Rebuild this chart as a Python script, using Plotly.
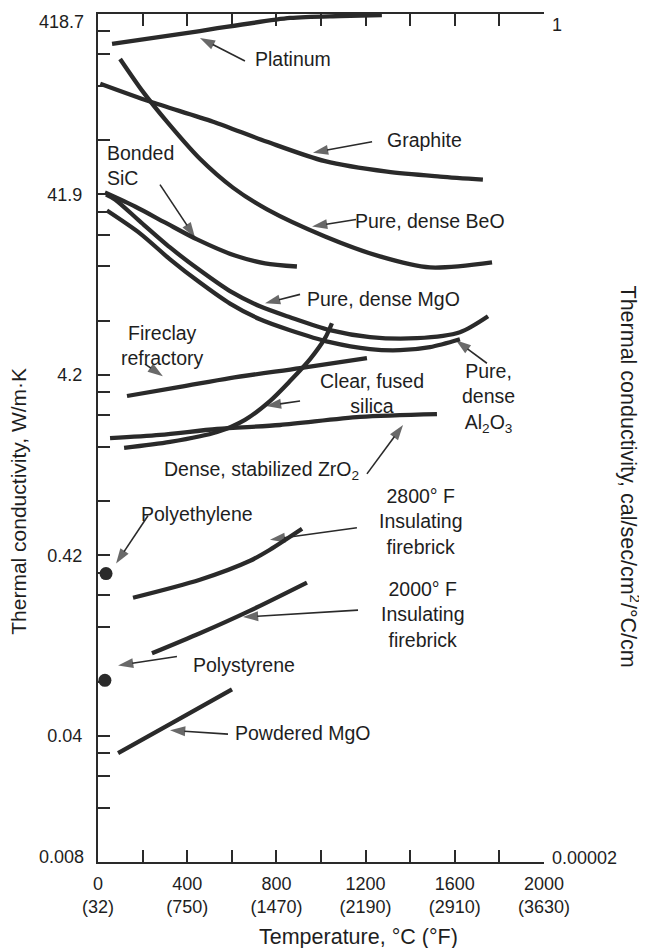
import math
import plotly.graph_objects as go

# ---------------- data: temperature (°C) vs thermal conductivity (W/m·K) ----------------
platinum_T = [63, 457, 861, 1085, 1273]
platinum_k = [286, 337, 398, 408, 413]

graphite_T = [10, 233, 516, 758, 1018, 1296, 1534, 1726]
graphite_k = [172, 137, 106, 82, 64, 56, 52.6, 50.6]

beo_T = [99, 202, 309, 457, 605, 758, 1018, 1264, 1489, 1767]
beo_k = [236, 155, 106, 66, 45.7, 34.6, 24.5, 19.0, 16.5, 17.6]

sic_T = [31, 166, 300, 444, 614, 749, 892]
sic_k = [42.9, 35.9, 29.3, 23.6, 19.2, 17.4, 16.7]

mgo_T = [36, 76, 188, 323, 457, 592, 726, 861, 1040, 1220, 1430, 1623, 1749]
mgo_k = [41.8, 39.3, 29.7, 21.3, 15.9, 12.2, 10.05, 8.74, 7.41, 6.78, 6.69, 7.22, 8.85]

al2o3_T = [40, 188, 323, 457, 592, 726, 861, 1040, 1220, 1354, 1489, 1623]
al2o3_k = [34.1, 25.5, 18.3, 13.6, 10.4, 8.52, 7.41, 6.36, 5.82, 5.74, 5.97, 6.60]

fireclay_T = [130, 368, 592, 906, 1206]
fireclay_k = [3.20, 3.59, 4.02, 4.57, 5.19]

silica_T = [117, 323, 534, 659, 771, 861, 951, 1018, 1049]
silica_k = [1.65, 1.78, 2.02, 2.36, 3.00, 3.87, 5.12, 6.69, 8.10]

zro2_T = [54, 278, 534, 816, 1175, 1520]
zro2_k = [1.87, 1.95, 2.10, 2.21, 2.45, 2.54]

ifb2800_T = [157, 457, 682, 771, 915]
ifb2800_k = [0.244, 0.307, 0.391, 0.450, 0.588]

ifb2000_T = [242, 457, 682, 937]
ifb2000_k = [0.120, 0.155, 0.207, 0.296]

powdered_mgo_T = [90, 345, 601]
powdered_mgo_k = [0.0336, 0.0504, 0.0758]

polyethylene_T = [36]
polyethylene_k = [0.332]

polystyrene_T = [31]
polystyrene_k = [0.085]

# ---------------- axes ----------------
W_PER_CAL = 418.7
cal_major = [0.1, 0.01, 0.001, 0.0001]
cal_major_labels = ["0.1", "0.01", "0.001", "0.0001"]
w_major_labels = ["41.9", "4.2", "0.42", "0.04"]
cal_minor = [0.8, 0.6, 0.4, 0.2, 0.08, 0.06, 0.04, 0.02, 0.008, 0.006, 0.004, 0.002,
             0.0008, 0.0006, 0.0004, 0.0002, 0.00008, 0.00006, 0.00004]

x_major = [0, 400, 800, 1200, 1600, 2000]
x_major_labels = ["0<br>(32)", "400<br>(750)", "800<br>(1470)", "1200<br>(2190)",
                  "1600<br>(2910)", "2000<br>(3630)"]
x_minor = [200, 600, 1000, 1400, 1800]

# ---------------- labels and arrows (temperature, conductivity) ----------------
labels = [
    ("Platinum", 874, 236, "center"),
    ("Graphite", 1466, 84.3, "center"),
    ("Pure, dense BeO", 1489, 29.7, "center"),
    ("Bonded<br>SiC", 31, 60.5, "left"),
    ("Pure, dense MgO", 1282, 11.1, "center"),
    ("Fireclay<br>refractory", 287, 6.12, "center"),
    ("Clear, fused<br>silica", 1229, 3.32, "center"),
    ("Pure,<br>dense<br>Al<sub>2</sub>O<sub>3</sub>", 1749, 3.12, "center"),
    ("Dense, stabilized ZrO<sub>2</sub>", 735, 1.23, "center"),
    ("Polyethylene", 444, 0.712, "center"),
    ("2800° F<br>Insulating<br>firebrick", 1444, 0.643, "center"),
    ("2000° F<br>Insulating<br>firebrick", 1453, 0.197, "center"),
    ("Polystyrene", 655, 0.1029, "center"),
    ("Powdered MgO", 919, 0.0433, "center"),
]

# (tail T, tail k, tip T, tip k)
arrows = [
    (659, 230, 457, 308.6),
    (1229, 82.1, 964, 71.4),
    (1157, 30.4, 960, 27.8),
    (278, 47.5, 435, 24.2),
    (906, 11.7, 749, 10.45),
    (211, 4.81, 291, 4.12),
    (906, 3.00, 753, 2.82),
    (1744, 4.86, 1605, 6.52),
    (1206, 1.185, 1368, 2.21),
    (224, 0.694, 81, 0.377),
    (1161, 0.596, 771, 0.511),
    (1166, 0.2083, 650, 0.1905),
    (354, 0.1153, 90, 0.1029),
    (583, 0.0428, 323, 0.045),
]

INK = "#2a2a2a"
TXT = "#1e1e1e"
FONT = "Liberation Sans, Arial, Helvetica, sans-serif"

fig = go.Figure()

curves = [
    (platinum_T, platinum_k), (graphite_T, graphite_k), (beo_T, beo_k), (sic_T, sic_k),
    (mgo_T, mgo_k), (al2o3_T, al2o3_k), (fireclay_T, fireclay_k), (silica_T, silica_k),
    (zro2_T, zro2_k), (ifb2800_T, ifb2800_k), (ifb2000_T, ifb2000_k),
    (powdered_mgo_T, powdered_mgo_k),
]
for T, k in curves:
    fig.add_trace(go.Scatter(x=T, y=k, mode="lines",
                             line=dict(color=INK, width=4.3, shape="spline", smoothing=0.8),
                             showlegend=False, hoverinfo="skip"))

for T, k in [(polyethylene_T, polyethylene_k), (polystyrene_T, polystyrene_k)]:
    fig.add_trace(go.Scatter(x=T, y=k, mode="markers",
                             marker=dict(color=INK, size=13, line=dict(width=0)),
                             showlegend=False, hoverinfo="skip", cliponaxis=False))

# pointer arrows: thin shaft with a filled head at the tip
for tT, tk, hT, hk in arrows:
    fig.add_trace(go.Scatter(x=[tT, hT], y=[tk, hk], mode="lines+markers",
                             line=dict(color=INK, width=1.6),
                             marker=dict(symbol="arrow", size=[0, 16], angleref="previous",
                                         color=INK, line=dict(width=0)),
                             showlegend=False, hoverinfo="skip"))

for text, T, k, anchor in labels:
    fig.add_annotation(x=T, y=math.log10(k), xref="x", yref="y", text=text, showarrow=False,
                       xanchor=anchor, yanchor="middle", align=anchor,
                       font=dict(family=FONT, size=19.5, color=TXT))

# end labels of the y axes
end_font = dict(family=FONT, size=18, color=TXT)
fig.add_annotation(xref="paper", yref="paper", x=0, y=1, xanchor="right", yanchor="middle",
                   xshift=-12, yshift=-8, text="418.7", showarrow=False, font=end_font)
fig.add_annotation(xref="paper", yref="paper", x=0, y=0, xanchor="right", yanchor="middle",
                   xshift=-12, yshift=5, text="0.008", showarrow=False, font=end_font)
fig.add_annotation(xref="paper", yref="paper", x=1, y=1, xanchor="left", yanchor="middle",
                   xshift=6, yshift=-11, text="1", showarrow=False, font=end_font)
fig.add_annotation(xref="paper", yref="paper", x=1, y=0, xanchor="left", yanchor="middle",
                   xshift=6, yshift=4, text="0.00002", showarrow=False, font=end_font)

# axis titles
fig.add_annotation(xref="paper", yref="paper", x=-0.179, y=0.425, textangle=-90,
                   xanchor="center", yanchor="middle",
                   text="Thermal conductivity, W/m·K", showarrow=False,
                   font=dict(family=FONT, size=21, color=TXT))
fig.add_annotation(xref="paper", yref="paper", x=1.192, y=0.455, textangle=90,
                   xanchor="center", yanchor="middle",
                   text="Thermal conductivity, cal/sec/cm<sup>2</sup>/°C/cm", showarrow=False,
                   font=dict(family=FONT, size=21.5, color=TXT))
fig.add_annotation(xref="paper", yref="paper", x=0.585, y=-0.088,
                   xanchor="center", yanchor="middle",
                   text="Temperature, °C (°F)", showarrow=False,
                   font=dict(family=FONT, size=21.5, color=TXT))

axis_common = dict(showline=True, linecolor=INK, linewidth=2, ticks="inside", ticklen=12,
                   tickwidth=2, tickcolor=INK, showgrid=False, zeroline=False,
                   tickfont=dict(family=FONT, size=18, color=TXT))
minor_common = dict(tickmode="array", ticks="inside", ticklen=12, tickwidth=2, tickcolor=INK,
                    showgrid=False)

# the page adds an 8 px body margin; margins are reduced by that amount
fig.update_layout(
    width=647, height=948,
    margin=dict(l=90, r=111, t=4, b=94),
    paper_bgcolor="#ffffff", plot_bgcolor="#ffffff",
    showlegend=False,
    xaxis=dict(range=[0, 2000], tickmode="array", tickvals=x_major, ticktext=x_major_labels,
               minor=dict(tickvals=x_minor, **minor_common),
               mirror="ticks", ticklabelstandoff=4, **axis_common),
    yaxis=dict(type="log", range=[math.log10(0.00002 * W_PER_CAL), math.log10(W_PER_CAL)],
               tickmode="array", tickvals=[v * W_PER_CAL for v in cal_major],
               ticktext=w_major_labels, ticklabelstandoff=10,
               minor=dict(tickvals=[v * W_PER_CAL for v in cal_minor], **minor_common),
               **axis_common),
    yaxis2=dict(type="log", range=[math.log10(0.00002), 0], overlaying="y", side="right",
                anchor="x", tickmode="array", tickvals=cal_major,
                ticktext=cal_major_labels, ticklabelstandoff=6,
                minor=dict(tickvals=cal_minor, **minor_common),
                **axis_common),
)

fig.write_html("out.html")
